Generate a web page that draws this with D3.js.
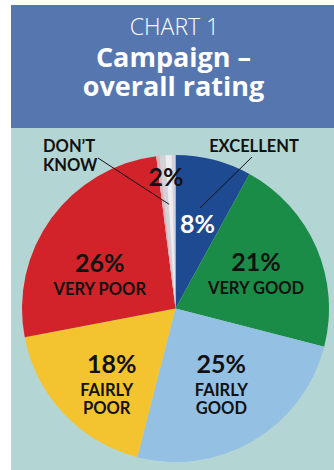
<!DOCTYPE html>
<html>
<head>
<meta charset="utf-8">
<script src="https://cdn.jsdelivr.net/npm/d3@7"></script>
<style>
  body { margin: 0; background: #fff; }
  text { font-family: Lato, "Open Sans", sans-serif; }
  .title { font-family: "Open Sans", Lato, sans-serif; }
</style>
</head>
<body>
<div id="chart"></div>
<script>
// Pie chart, 'Campaign - overall rating', slices clockwise from 12 o'clock.

const categories = ['EXCELLENT', 'VERY GOOD', 'FAIRLY GOOD', 'FAIRLY POOR', 'VERY POOR', "DON\u2019T KNOW"]
const values     = [8, 21, 25, 18, 26, 2]
const colors     = ['#1d4a91', '#1b8c48', '#94c0e4', '#f4c430', '#d2232a', '#d3d2d9']
const titleLines = ['CHART 1', 'Campaign \u2013', 'overall rating']

const W = 334, H = 470
const FX = 11, FY = 5     // frame left / top
const TB = 128            // bottom of the title band
const CX = 175.5, CY = 308.5, R = 153.5

// where the in-slice labels sit: [angle in degrees, fraction of radius]
const place = {
  'EXCELLENT':   [14.5, 0.57],
  'VERY GOOD':   [67,   0.57],
  'FAIRLY GOOD': [149,  0.58],
  'FAIRLY POOR': [222,  0.67],
  'VERY POOR':   [294,  0.54],
}

const svg = d3.select('#chart').append('svg').attr('width', W).attr('height', H)

svg.append('rect').attr('x', FX).attr('y', FY).attr('width', W - FX).attr('height', H - FY)
  .attr('fill', '#b3d5d3')
svg.append('rect').attr('x', FX).attr('y', FY).attr('width', W - FX).attr('height', TB - FY)
  .attr('fill', '#5676b0')

const tx = (FX + W) / 2 + 2
svg.append('text').attr('class', 'title').attr('x', tx).attr('y', 35).attr('text-anchor', 'middle')
  .attr('fill', '#fff').attr('font-size', 23).attr('font-weight', 300).text(titleLines[0])
svg.append('text').attr('class', 'title').attr('x', tx - 1).attr('y', 67).attr('text-anchor', 'middle')
  .attr('fill', '#fff').attr('font-size', 27).attr('font-weight', 700).text(titleLines[1])
svg.append('text').attr('class', 'title').attr('x', tx - 1).attr('y', 96).attr('text-anchor', 'middle')
  .attr('fill', '#fff').attr('font-size', 27).attr('font-weight', 700).text(titleLines[2])

const data = categories.map((c, i) => ({ cat: c, v: values[i], col: colors[i] }))
const arcs = d3.pie().sort(null).value(d => d.v)(data)
const arc  = d3.arc().innerRadius(0).outerRadius(R)

const g = svg.append('g').attr('transform', `translate(${CX},${CY})`)
g.selectAll('path').data(arcs).join('path')
  .attr('d', arc).attr('fill', d => d.data.col)

// soft highlight on the thin grey slice, and a pinkish edge where it meets red
const dk = arcs[5]
g.append('path')
  .attr('d', d3.arc().innerRadius(0).outerRadius(R)
    .startAngle(dk.startAngle + 0.06).endAngle(dk.startAngle + 0.1)())
  .attr('fill', '#f1f1f4').attr('opacity', 0.85)
g.append('path')
  .attr('d', d3.arc().innerRadius(0).outerRadius(R)
    .startAngle(dk.startAngle).endAngle(dk.startAngle + 0.02)())
  .attr('fill', '#e3a9ab').attr('opacity', 0.8)

function pt(deg, r) {
  const a = deg * Math.PI / 180
  return [r * Math.sin(a), -r * Math.cos(a)]
}

// main labels: percentage + category name
arcs.filter(d => place[d.data.cat]).forEach(d => {
  const [x, y] = pt(place[d.data.cat][0], place[d.data.cat][1] * R)
  const words = d.data.cat === 'FAIRLY GOOD' || d.data.cat === 'FAIRLY POOR'
    ? d.data.cat.split(' ') : [d.data.cat]
  const t = g.append('text').attr('text-anchor', 'middle').attr('font-weight', 700)
  if (d.data.cat === 'EXCELLENT') {
    t.attr('x', x).attr('y', y + 9).attr('font-size', 25).attr('fill', '#fff').text(d.data.v + '%')
    return
  }
  const top = y - (words.length === 1 ? 3 : 12)
  t.append('tspan').attr('x', x + (words.length > 1 && x < 0 ? 5 : 0)).attr('y', top)
    .attr('font-size', 25).attr('fill', '#111').text(d.data.v + '%')
  words.forEach((w, i) => {
    t.append('tspan').attr('x', x).attr('y', top + 23 + i * 18.5).attr('font-size', 16.5)
      .attr('fill', '#111').text(w)
  })
})

// 2% sits over the top of the grey slice
const [px, py] = pt(356, 0.85 * R)
g.append('text').attr('x', px - 0.5).attr('y', py + 8).attr('text-anchor', 'middle')
  .attr('font-weight', 700).attr('font-size', 25).attr('fill', '#111').text(values[5] + '%')

// outside labels with leader lines
const lab = svg.append('g').attr('font-weight', 700).attr('font-size', 16.5).attr('fill', '#111')
lab.append('text').attr('x', 43).attr('y', 152).text("DON\u2019T")
lab.append('text').attr('x', 43).attr('y', 171).text('KNOW')
lab.append('text').attr('x', 254).attr('y', 152).attr('text-anchor', 'middle').text(categories[0])

const dkIn = pt(356.5, 0.68 * R), exIn = pt(13.7, 0.674 * R)
svg.append('line').attr('x1', 98).attr('y1', 158)
  .attr('x2', CX + dkIn[0]).attr('y2', CY + dkIn[1]).attr('stroke', '#111').attr('stroke-width', 1)
svg.append('line').attr('x1', 252).attr('y1', 157)
  .attr('x2', CX + exIn[0]).attr('y2', CY + exIn[1]).attr('stroke', '#111').attr('stroke-width', 1)
</script>
</body>
</html>
